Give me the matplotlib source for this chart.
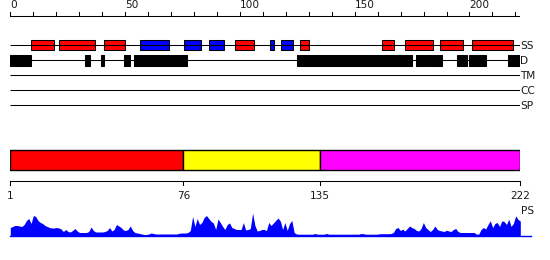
import matplotlib
matplotlib.use('Agg')
import matplotlib.pyplot as plt
import numpy as np

# secondary structure: helix (red) and strand (blue) segments, residue start/end
helix = [(9, 19), (21, 37), (41, 50), (98, 106), (126, 130), (162, 167),
         (172, 184), (187, 197), (201, 219)]
strand = [(56.5, 69), (75.5, 83), (86.5, 93), (113, 115), (118, 123)]
# disordered regions
disorder = [(0, 9), (32.5, 34.5), (39.5, 41), (49.5, 52), (54, 77),
            (125, 175), (176.5, 180), (180.5, 188), (194.5, 199),
            (199.7, 207), (216.7, 222)]
track_names = ['SS', 'D', 'TM', 'CC', 'SP']

# domain boundaries
domain_bounds = [1, 76, 135, 222]
domain_colors = ['#ff0000', '#ffff00', '#ff00ff']

# PS profile, one value per residue
ps_profile = [
    8, 9, 10, 10, 9.5, 9, 11, 15, 17, 12,
    20, 19, 15, 13, 12, 10, 9, 8, 7.5, 7.5,
    8, 7.5, 6.5, 4, 6, 4, 3.5, 5, 7, 4.5,
    3, 3, 3, 3, 4, 8.5, 5, 3.5, 3.5, 3.5,
    3.5, 4, 5, 8, 4.5, 6, 11, 9.5, 8, 5.5,
    5, 6, 9.5, 5, 3, 2.5, 2, 1.5, 1, 1,
    1.5, 2.5, 2, 1.5, 1.5, 1.5, 1.5, 1.5, 1.5, 1.5,
    1.5, 1.5, 1.5, 2, 2.5, 2.5, 2.5, 3, 5, 19,
    9, 17, 11, 13, 18, 20, 17, 14, 12.5, 6,
    16.5, 13, 9, 6, 11, 12.5, 8, 7, 6, 6,
    6, 13, 5.5, 6, 7, 22.5, 10, 4.5, 5, 6,
    6, 5, 13, 10, 12.5, 15, 17.5, 14.5, 6, 13,
    5, 12, 15, 3, 1.5, 1.3, 1.3, 1.3, 1.3, 1.3,
    1.3, 1.3, 2, 1.3, 1.3, 1.3, 1.3, 2, 1.3, 1.3,
    1.3, 1.3, 1.3, 1.3, 1.3, 1.3, 1.3, 1.3, 1.3, 1.3,
    1.3, 1.3, 2, 1.8, 1.3, 1.3, 1.3, 1.3, 1.3, 1.3,
    1.8, 1.8, 1.8, 1.8, 1.8, 2, 3, 7, 8, 5,
    6.3, 4.5, 7, 9.5, 8, 7, 5, 4.5, 7, 13,
    8, 6, 4, 6, 9.5, 6, 5, 4.5, 4, 5.3,
    4.5, 4, 6, 7, 4, 3, 3, 3, 3, 3,
    3, 3, 1.3, 1.5, 6, 8, 6.5, 11, 14.7, 8,
    12, 13, 9, 14.7, 14, 11, 16.3, 9, 12, 19.7,
    16, 14.5,
]

W, H = 550, 260
txt = '#1a1a1a'
lw = 0.75
fs = 7.6

fig = plt.figure(figsize=(W / 100, H / 100), dpi=100)

# top panel: ruler + tracks (0..222)
ax = fig.add_axes([10.3 / W, 0, 509.7 / W, 1])
ax.set_xlim(0, 222)
ax.set_ylim(H, 0)
ax.axis('off')

ruler_y = 15.5
ax.plot([0, 222], [ruler_y, ruler_y], color='black', lw=lw, solid_capstyle='butt')
for t in range(0, 221, 10):
    ax.plot([t, t], [ruler_y, ruler_y - 4], color='black', lw=lw)
    if t % 50 == 0:
        ax.text(t, ruler_y - 5.5, str(t), fontsize=fs, color=txt,
                ha='left', va='bottom')

track_y = [45, 60, 75, 90, 105]
for name, y in zip(track_names, track_y):
    ax.plot([0, 222], [y, y], color='black', lw=lw, solid_capstyle='butt')
    ax.text(222, y + 0.8, name, fontsize=fs, color=txt, ha='left', va='center',
            clip_on=False)

ax.broken_barh([(a, b - a) for a, b in helix], (40, 10),
               facecolors='#ff0000', edgecolors='black', linewidth=lw)
ax.broken_barh([(a, b - a) for a, b in strand], (40, 10),
               facecolors='#0000ff', edgecolors='black', linewidth=lw)
ax.broken_barh([(a, b - a) for a, b in disorder], (54.5, 11),
               facecolors='black', edgecolors='black', linewidth=lw)

# bottom panel: domains, ruler, profile (1..222)
bx = fig.add_axes([10.3 / W, 0, 510 / W, 1])
bx.set_xlim(1, 222)
bx.set_ylim(H, 0)
bx.axis('off')

spans = [(domain_bounds[i], domain_bounds[i + 1] - domain_bounds[i])
         for i in range(len(domain_bounds) - 1)]
bx.broken_barh(spans, (150.3, 20), facecolors=domain_colors,
               edgecolors='black', linewidth=1.0)

rul2 = 180.5
bx.plot([1, 222], [rul2, rul2], color='black', lw=lw, clip_on=False)
for t in domain_bounds:
    bx.plot([t, t], [rul2, rul2 + 4.5], color='black', lw=lw, clip_on=False)
    bx.text(t, 196, str(t), fontsize=fs, color=txt, ha='center', va='center',
            clip_on=False)

base = 235.5
res = np.arange(1, len(ps_profile) + 1)
vals = np.array(ps_profile)
bx.fill_between(res, base, base - vals, color='#0000ff', lw=0, clip_on=False)
bx.plot([1, 226.8], [base, base], color='#0000ff', lw=1.0, clip_on=False)
bx.text(222.2, 211.5, 'PS', fontsize=fs, color=txt, ha='left', va='center',
        clip_on=False)

fig.savefig('out.png', dpi=100)
